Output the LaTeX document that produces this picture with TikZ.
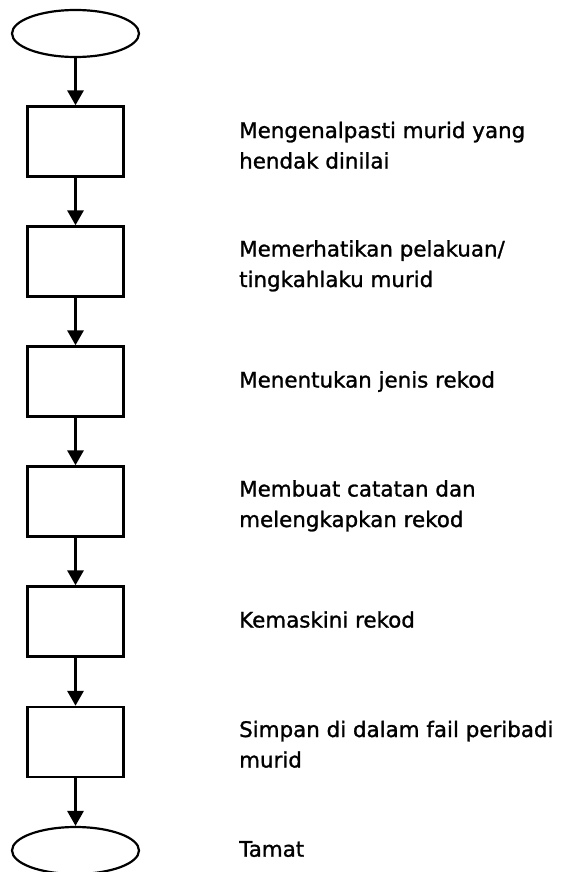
\documentclass[tikz,border=0pt]{standalone}
\usepackage{fontspec}
\setmainfont{DejaVu Sans}[FakeBold=1.2]
\usetikzlibrary{arrows.meta,shapes.geometric}
\tikzset{
  every picture/.style={x=1pt,y=-1pt},
  terminal/.style={draw,line width=2.2pt,ellipse,minimum width=127pt,minimum height=47pt,inner sep=0pt},
  stepbox/.style={draw,line width=2.4pt,rectangle,minimum width=96pt,minimum height=70pt,inner sep=0pt},
  flow/.style={line width=3pt,-{Triangle[width=16pt,length=15pt]},shorten >=0pt},
  note/.style={anchor=base west,inner sep=0pt,font=\fontsize{21.4pt}{30.5pt}\selectfont,align=left}
}
\begin{document}
\begin{tikzpicture}
\useasboundingbox (0,0) rectangle (561,872);
\clip (0,0) rectangle (561,872);
% start and end terminals
\node[terminal] (start) at (75.5,33.5) {};
\node[terminal] (stop) at (75.5,850.5) {};
% process steps
\node[stepbox] (s1) at (75.5,141.5) {};
\node[stepbox] (s2) at (75.5,261.5) {};
\node[stepbox] (s3) at (75.5,381.5) {};
\node[stepbox] (s4) at (75.5,501.5) {};
\node[stepbox] (s5) at (75.5,621.5) {};
\node[stepbox] (s6) at (75.5,742) {};
% connectors
\draw[flow] (start) -- (s1);
\draw[flow] (s1) -- (s2);
\draw[flow] (s2) -- (s3);
\draw[flow] (s3) -- (s4);
\draw[flow] (s4) -- (s5);
\draw[flow] (s5) -- (s6);
\draw[flow] (s6) -- (stop);
% descriptions (base anchor sits on the last line)
\node[note] (t1) at (239,168.5) {Mengenalpasti murid yang\\hendak dinilai};
\node[note] (t2) at (239,287) {Memerhatikan pelakuan/\\tingkahlaku murid};
\node[note] (t3) at (239,387.5) {Menentukan jenis rekod};
\node[note] (t4) at (239,527) {Membuat catatan dan\\melengkapkan rekod};
\node[note] (t5) at (239,627.5) {Kemaskini rekod};
\node[note] (t6) at (239,767.5) {Simpan di dalam fail peribadi\\murid};
\node[note] (t7) at (239,856.7) {Tamat};
\end{tikzpicture}
\end{document}
